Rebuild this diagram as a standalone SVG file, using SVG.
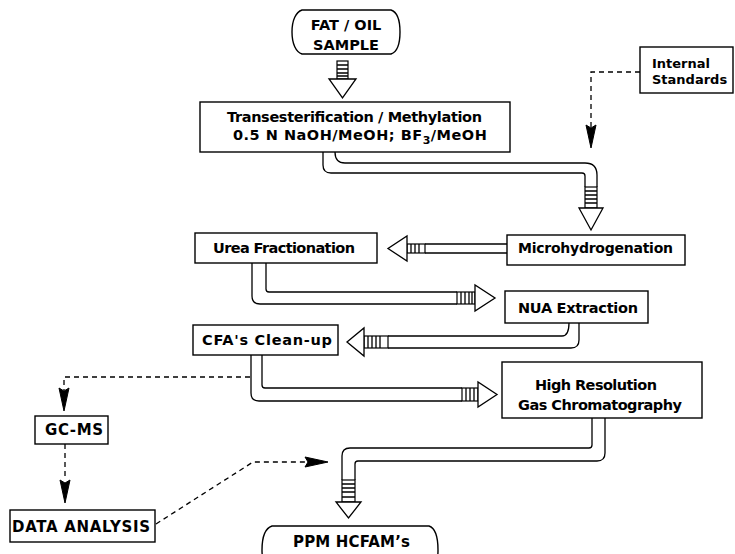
<svg xmlns="http://www.w3.org/2000/svg" xmlns:xlink="http://www.w3.org/1999/xlink" width="735" height="554" viewBox="0 0 735 554">
<style>
.box{fill:#fff;stroke:#000;stroke-width:1.4}
.pipe{fill:none;stroke:#000;stroke-width:1.3;stroke-linejoin:round}
.dash{fill:none;stroke:#000;stroke-width:1.3;stroke-dasharray:5 4}
.head{fill:#fff;stroke:#000;stroke-width:1.3;stroke-linejoin:miter}
.stripe{fill:#fff;stroke:#000;stroke-width:1.2}
.lbl{font-family:"DejaVu Sans","Liberation Sans",sans-serif;font-weight:bold;fill:#000;text-anchor:middle}
.lft{text-anchor:start}
</style>
<defs>
<path id="dart" d="M0,0 L-23,-5 L-20,0 L-23,5 Z" fill="#000" stroke="#000" stroke-width="1"/>
</defs>
<rect width="735" height="554" fill="#fff"/>

<g id="connectors">
  <g id="c1">
    <rect class="stripe" x="337" y="61" width="11" height="18"/>
    <path class="pipe" d="M337,65 H348 M337,69 H348 M337,73 H348 M337,76 H348"/>
    <polygon class="head" points="337,79 329,79 342.5,98 356,79 348,79"/>
  </g>
  <g id="c2">
    <path class="pipe" d="M323,152 V165 Q323,173 331,173 H582 Q585,173 585,176 V187"/>
    <path class="pipe" d="M335,152 Q335,163 345,163 H585 Q597,163 597,175 V187"/>
    <rect class="stripe" x="585" y="187" width="12" height="21"/>
    <path class="pipe" d="M585,191 H597 M585,195 H597 M585,199 H597 M585,203 H597"/>
    <polygon class="head" points="585,208 579,208 591,230 603,208 597,208"/>
  </g>
  <g id="c3">
    <path class="pipe" d="M507,244 H425 M507,253 H425"/>
    <rect class="stripe" x="407" y="244" width="18" height="9"/>
    <path class="pipe" d="M411,244 V253 M415,244 V253 M419,244 V253"/>
    <polygon class="head" points="407,244 407,236 388,248.5 407,261 407,253"/>
  </g>
  <g id="c4">
    <path class="pipe" d="M252,263 V296 Q252,304 260,304 H457"/>
    <path class="pipe" d="M266,263 V289 Q266,292 269,292 H457"/>
    <rect class="stripe" x="457" y="292" width="18" height="12"/>
    <path class="pipe" d="M461,292 V304 M465,292 V304 M469,292 V304 M472,292 V304"/>
    <polygon class="head" points="475,292 475,285 495,298 475,311 475,304"/>
  </g>
  <g id="c5">
    <path class="pipe" d="M569,323 Q569,336 562,336 H388"/>
    <path class="pipe" d="M579,323 V340 Q579,348 571,348 H388"/>
    <rect class="stripe" x="364" y="336" width="24" height="12"/>
    <path class="pipe" d="M368,336 V348 M372,336 V348 M376,336 V348 M380,336 V348"/>
    <polygon class="head" points="364,336 364,328 347,342 364,356 364,348"/>
  </g>
  <g id="c6">
    <path class="pipe" d="M251,355 V393 Q251,401 259,401 H462"/>
    <path class="pipe" d="M262,355 V385 Q262,388 265,388 H462"/>
    <rect class="stripe" x="462" y="388" width="16" height="13"/>
    <path class="pipe" d="M466,388 V401 M470,388 V401 M474,388 V401"/>
    <polygon class="head" points="478,388 478,382 497,394.5 478,407 478,401"/>
  </g>
  <g id="c7">
    <path class="pipe" d="M592,418 V445 Q592,448 589,448 H350 Q342,448 342,456 V480"/>
    <path class="pipe" d="M605,418 V453 Q605,461 597,461 H358 Q355,461 355,464 V480"/>
    <rect class="stripe" x="342" y="480" width="13" height="22"/>
    <path class="pipe" d="M342,484 H355 M342,488 H355 M342,492 H355 M342,497 H355"/>
    <polygon class="head" points="342,502 336,502 348.5,518 361,502 355,502"/>
  </g>
  <g id="d1">
    <path class="dash" d="M640,72 H591 V130"/>
    <use xlink:href="#dart" href="#dart" transform="translate(591,148) rotate(90)"/>
  </g>
  <g id="d2">
    <path class="dash" d="M250,377 H64 V390"/>
    <use xlink:href="#dart" href="#dart" transform="translate(64,411) rotate(90)"/>
  </g>
  <g id="d3">
    <path class="dash" d="M65,444 V480"/>
    <use xlink:href="#dart" href="#dart" transform="translate(65,503) rotate(90)"/>
  </g>
  <g id="d4">
    <path class="dash" d="M156,524 L253,462 H307"/>
    <use xlink:href="#dart" href="#dart" transform="translate(328,462)"/>
  </g>
</g>

<g id="fat-oil-sample">
  <path class="box" d="M302,10 H391 C397,12 400,20 400,32 C400,44 397,52 391,54 H302 C296,52 292,44 292,32 C292,20 296,12 302,10 Z"/>
  <text class="lbl" x="346" y="30" font-size="14.5">FAT / OIL</text>
  <text class="lbl" x="346" y="50" font-size="14.5">SAMPLE</text>
</g>

<g id="transesterification">
  <rect class="box" x="200" y="102" width="310" height="50"/>
  <text class="lbl" x="354.5" y="122" font-size="14.5" textLength="255">Transesterification / Methylation</text>
  <text class="lbl lft" x="233" y="140" font-size="14.5" letter-spacing="0.5">0.5 N NaOH/MeOH; BF<tspan font-size="11" dy="4">3</tspan><tspan font-size="14.5" dy="-4">/MeOH</tspan></text>
</g>

<g id="internal-standards">
  <rect class="box" x="640" y="47" width="93" height="46"/>
  <text class="lbl lft" x="652" y="68" font-size="13">Internal</text>
  <text class="lbl lft" x="652" y="84" font-size="13">Standards</text>
</g>

<g id="microhydrogenation">
  <rect class="box" x="507" y="235" width="178" height="30"/>
  <text class="lbl" x="595.5" y="253" font-size="14" textLength="155">Microhydrogenation</text>
</g>

<g id="urea-fractionation">
  <rect class="box" x="195" y="233" width="182" height="30"/>
  <text class="lbl" x="284" y="253" font-size="14.5" textLength="142">Urea Fractionation</text>
</g>

<g id="nua-extraction">
  <rect class="box" x="505" y="291" width="143" height="32"/>
  <text class="lbl" x="578" y="313" font-size="14.5" textLength="120">NUA Extraction</text>
</g>

<g id="cfa-cleanup">
  <rect class="box" x="193" y="325" width="145" height="30"/>
  <text class="lbl" x="267" y="345" font-size="14.5" textLength="130">CFA's Clean-up</text>
</g>

<g id="hrgc">
  <rect class="box" x="502" y="362" width="200" height="56"/>
  <text class="lbl" x="596" y="390" font-size="14.5" textLength="122">High Resolution</text>
  <text class="lbl" x="600" y="410" font-size="14.5" textLength="164">Gas Chromatography</text>
</g>

<g id="gc-ms">
  <rect class="box" x="35" y="416" width="73" height="28"/>
  <text class="lbl" x="74" y="435" font-size="15" textLength="58">GC-MS</text>
</g>

<g id="data-analysis">
  <rect class="box" x="10" y="510" width="145" height="32"/>
  <text class="lbl" x="81" y="532" font-size="15" textLength="138">DATA ANALYSIS</text>
</g>

<g id="ppm-hcfams">
  <path class="box" d="M272,526 H429 C435,528 438,536 438,550 C438,562 435,570 429,572 H272 C266,570 262,562 262,550 C262,536 266,528 272,526 Z"/>
  <text class="lbl" x="351.5" y="547" font-size="15" textLength="117">PPM HCFAM’s</text>
</g>
</svg>
